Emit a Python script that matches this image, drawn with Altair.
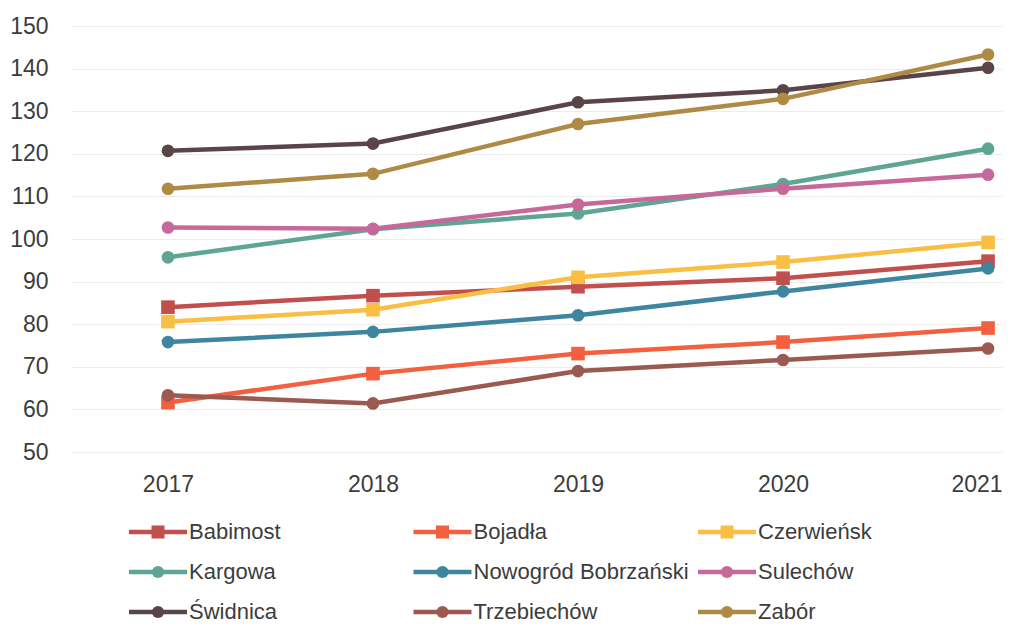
import altair as alt
import pandas as pd

years = [2017, 2018, 2019, 2020, 2021]
names = ["Babimost", "Bojadła", "Czerwieńsk", "Kargowa", "Nowogród Bobrzański",
         "Sulechów", "Świdnica", "Trzebiechów", "Zabór"]
babimost = [84.0, 86.7, 88.8, 90.8, 94.8]
bojadla = [61.6, 68.4, 73.1, 75.8, 79.1]
czerwiensk = [80.6, 83.4, 91.0, 94.6, 99.2]
kargowa = [95.7, 102.3, 106.0, 112.9, 121.2]
nowogrod = [75.8, 78.2, 82.1, 87.7, 93.1]
sulechow = [102.7, 102.4, 108.1, 111.8, 115.1]
swidnica = [120.7, 122.4, 132.1, 134.9, 140.2]
trzebiechow = [63.3, 61.4, 69.0, 71.6, 74.3]
zabor = [111.8, 115.3, 127.0, 132.9, 143.3]
series = [babimost, bojadla, czerwiensk, kargowa, nowogrod, sulechow, swidnica, trzebiechow, zabor]
colors = ["#C04F4E", "#F2603F", "#F9BE44", "#5EA693", "#3E86A0",
          "#C7689A", "#5A4448", "#9A5A50", "#AE8A45"]
square_names = ["Babimost", "Bojadła", "Czerwieńsk"]
circle_names = [n for n in names if n not in square_names]

rows = []
for n, vals in zip(names, series):
    for yr, v in zip(years, vals):
        rows.append({"year": yr, "value": v, "name": n})
df = pd.DataFrame(rows)

legend_df = pd.DataFrame({
    "name": names,
    "col": [i % 3 for i in range(len(names))],
    "row": [i // 3 for i in range(len(names))],
})

FONT = "Liberation Sans"
TXT = "#3c3c3c"

x = alt.X("year:Q", scale=alt.Scale(domain=[2016.532, 2021.068], nice=False, zero=False),
          axis=alt.Axis(values=years, format="d", title=None, grid=False, domain=False,
                        ticks=False, labelPadding=21, labelFontSize=23,
                        labelColor=TXT, labelFont=FONT,
                        labelFlush=20, labelFlushOffset=14))
y = alt.Y("value:Q", scale=alt.Scale(domain=[50, 150], nice=False, zero=False),
          axis=alt.Axis(values=list(range(50, 151, 10)), title=None, domain=False,
                        ticks=False, labelPadding=24, labelFontSize=23,
                        labelColor=TXT, labelFont=FONT, gridColor="#ececec",
                        gridWidth=1))
color_scale = alt.Scale(domain=names, range=colors)
col = alt.Color("name:N", scale=color_scale, legend=None, sort=names)

base = alt.Chart(df)

lines = base.mark_line(strokeWidth=4.5).encode(x=x, y=y, color=col, detail="name:N")

squares = base.transform_filter(
    alt.FieldOneOfPredicate(field="name", oneOf=square_names)
).mark_point(filled=True, shape="square", size=185, opacity=1).encode(x=x, y=y, color=col)

circles = base.transform_filter(
    alt.FieldOneOfPredicate(field="name", oneOf=circle_names)
).mark_point(filled=True, shape="circle", size=160, opacity=1).encode(x=x, y=y, color=col)

main = alt.layer(lines, squares, circles)

# legend drawn as marks
lx = alt.X("col:Q", scale=alt.Scale(domain=[0, 2], range=[86, 655]), axis=None)
ly = alt.Y("row:Q", scale=alt.Scale(domain=[0, 2], range=[506, 586]), axis=None)
lg = alt.Chart(legend_df)

stubs = lg.mark_rule(strokeWidth=4.5, xOffset=-29, x2Offset=29).encode(
    x=lx, x2="col:Q", y=ly, color=col)
lg_sq = lg.transform_filter(
    alt.FieldOneOfPredicate(field="name", oneOf=square_names)
).mark_point(filled=True, shape="square", size=170, opacity=1).encode(x=lx, y=ly, color=col)
lg_ci = lg.transform_filter(
    alt.FieldOneOfPredicate(field="name", oneOf=circle_names)
).mark_point(filled=True, shape="circle", size=150, opacity=1).encode(x=lx, y=ly, color=col)
labels = lg.mark_text(align="left", baseline="middle", dx=31, fontSize=22,
                      font=FONT, color=TXT).encode(x=lx, y=ly, text="name:N")

legend_layer = alt.layer(stubs, lg_sq, lg_ci, labels)

chart = alt.layer(main, legend_layer).resolve_scale(
    x="independent", y="independent"
).properties(
    width=930, height=426,
    padding={"left": 64, "top": 18, "right": 2, "bottom": 174},
    autosize="none",
    background="white",
).configure_view(stroke=None)

chart.save("out.html", embed_options={"renderer": "svg", "actions": False})
